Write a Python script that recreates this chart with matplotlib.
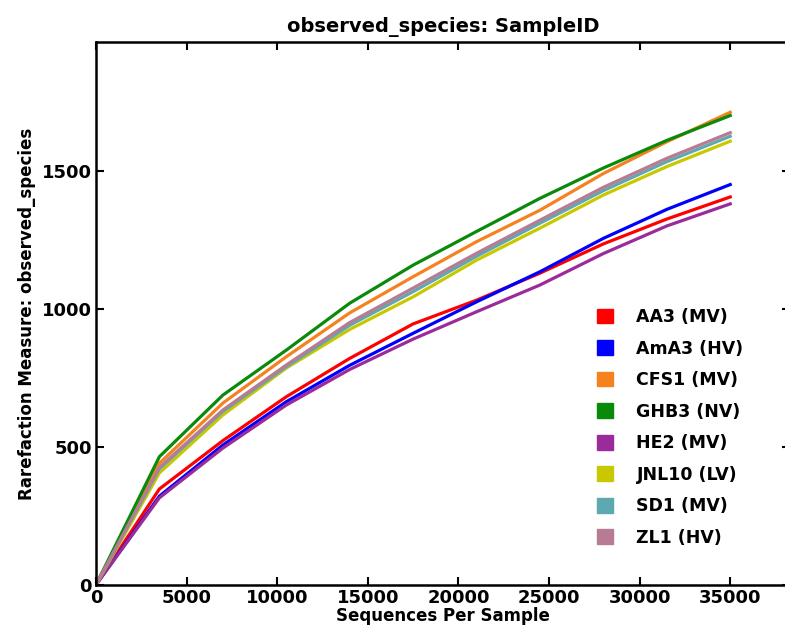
import matplotlib
matplotlib.use('Agg')
import matplotlib.pyplot as plt
import matplotlib.patches as mpatches

depths = [0, 3500, 7000, 10500, 14000, 17500, 21000, 24500, 28000, 31500, 35000]

samples = ['AA3 (MV)', 'AmA3 (HV)', 'CFS1 (MV)', 'GHB3 (NV)',
           'HE2 (MV)', 'JNL10 (LV)', 'SD1 (MV)', 'ZL1 (HV)']

aa3 = [0, 347, 522, 681, 820, 945, 1031, 1129, 1235, 1325, 1405]
ama3 = [0, 321, 506, 663, 795, 911, 1025, 1134, 1255, 1360, 1450]
cfs1 = [0, 440, 658, 826, 985, 1116, 1243, 1357, 1490, 1605, 1712]
ghb3 = [0, 464, 687, 850, 1020, 1158, 1280, 1400, 1510, 1610, 1700]
he2 = [0, 315, 495, 651, 780, 890, 989, 1086, 1200, 1300, 1380]
jnl10 = [0, 405, 615, 785, 925, 1043, 1176, 1292, 1412, 1515, 1607]
sd1 = [0, 420, 628, 790, 940, 1062, 1190, 1310, 1428, 1533, 1625]
zl1 = [0, 425, 633, 796, 950, 1075, 1201, 1321, 1440, 1545, 1638]

series = [aa3, ama3, cfs1, ghb3, he2, jnl10, sd1, zl1]
colors = ['#ff0000', '#0000ff', '#f5821f', '#0a8a0a',
          '#9b2a9b', '#c8c800', '#5ea8b0', '#b77c93']

plt.rcParams['font.family'] = 'DejaVu Sans'
plt.rcParams['font.weight'] = 'bold'

fig = plt.figure(figsize=(7.85, 6.29), dpi=100)
# right spine sits just past the picture edge, as in the original crop
ax = fig.add_axes([0.1223, 0.0704, 0.8841, 0.8626])

for vals, c in zip(series, colors):
    ax.plot(depths, vals, color=c, lw=2.3)

ax.set_xlim(0, 38300)
ax.set_ylim(0, 1966)
ax.set_xticks([0, 5000, 10000, 15000, 20000, 25000, 30000, 35000])
ax.set_yticks([0, 500, 1000, 1500])
ax.tick_params(direction='in', length=6, width=1.5, top=True, right=True,
               labelsize=13, pad=3)
for lab in ax.get_xticklabels() + ax.get_yticklabels():
    lab.set_fontweight('bold')
for sp in ax.spines.values():
    sp.set_linewidth(1.8)

ax.set_title('observed_species: SampleID', fontsize=14, fontweight='bold', pad=7)
ax.set_xlabel('Sequences Per Sample', fontsize=12, fontweight='bold', labelpad=0)
ax.set_ylabel('Rarefaction Measure: observed_species', fontsize=12,
              fontweight='bold', labelpad=4)

handles = [mpatches.Patch(color=c, label=s) for s, c in zip(samples, colors)]
ax.legend(handles=handles, loc='upper left', bbox_to_anchor=(0.722, 0.51),
          frameon=False, prop={'weight': 'bold', 'size': 12.5},
          borderpad=0, borderaxespad=0,
          handlelength=0.92, handleheight=0.92, handletextpad=1.35,
          labelspacing=0.78)

fig.savefig('out.png', dpi=100)
